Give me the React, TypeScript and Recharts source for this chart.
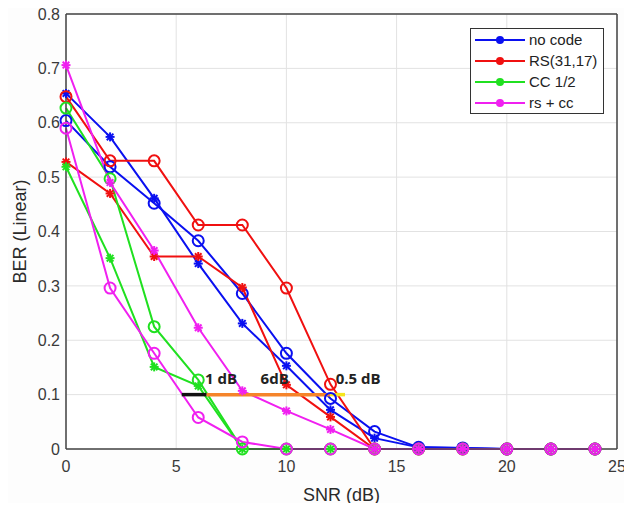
import {
  CartesianGrid,
  Label,
  Line,
  LineChart,
  ReferenceDot,
  ReferenceLine,
  XAxis,
  YAxis,
} from 'recharts';

// SNR points (dB)
const snr = [0, 2, 4, 6, 8, 10, 12, 14, 16, 18, 20, 22, 24];

// BER values, two runs per scheme (asterisk / circle markers)
const noCodeStar = [0.654, 0.574, 0.461, 0.341, 0.231, 0.153, 0.072, 0.02, 0.003, 0.002, 0, 0, 0];
const noCodeCircle = [0.604, 0.519, 0.452, 0.383, 0.286, 0.176, 0.093, 0.032, 0.003, 0.002, 0, 0, 0];
const rsStar = [0.528, 0.47, 0.354, 0.354, 0.297, 0.118, 0.059, 0, 0, 0, 0, 0, 0];
const rsCircle = [0.648, 0.53, 0.53, 0.412, 0.412, 0.296, 0.119, 0, 0, 0, 0, 0, 0];
const ccStar = [0.519, 0.351, 0.151, 0.116, 0, 0, 0, 0, 0, 0, 0, 0, 0];
const ccCircle = [0.627, 0.497, 0.225, 0.127, 0, 0, 0, 0, 0, 0, 0, 0, 0];
const rsccStar = [0.706, 0.49, 0.365, 0.223, 0.107, 0.07, 0.036, 0, 0, 0, 0, 0, 0];
const rsccCircle = [0.59, 0.296, 0.176, 0.058, 0.013, 0, 0, 0, 0, 0, 0, 0, 0];

const xTicks = [0, 5, 10, 15, 20, 25];
const yTicks = [0, 0.1, 0.2, 0.3, 0.4, 0.5, 0.6, 0.7, 0.8];

const legendNames = ['no code', 'RS(31,17)', 'CC 1/2', 'rs + cc'];
const legendColors = ['#0a10f0', '#f01010', '#20e020', '#f020f0'];

// annotation segments at BER = 0.1
const segStart = [5.25, 6.38, 11.98];
const segEnd = [6.38, 11.98, 12.66];
const segColors = ['#111111', '#f5842a', '#f5e51c'];
const noteText = ['1 dB', '6dB', '0.5 dB'];
const noteX = [6.31, 8.83, 12.24];

const rows = snr.map((s, i) => ({
  snr: s,
  noCodeStar: noCodeStar[i],
  noCodeCircle: noCodeCircle[i],
  rsStar: rsStar[i],
  rsCircle: rsCircle[i],
  ccStar: ccStar[i],
  ccCircle: ccCircle[i],
  rsccStar: rsccStar[i],
  rsccCircle: rsccCircle[i],
}));

const font = '"Liberation Sans", Arial, sans-serif';

function starDot(color: string) {
  return (props: any) => {
    const { cx, cy, index } = props;
    if (cx == null || cy == null) return <g key={`s${index}`} />;
    const s = 4.5;
    const d = 3.3;
    return (
      <g key={`s${index}`} stroke={color} strokeWidth={2}>
        <line x1={cx - s} y1={cy} x2={cx + s} y2={cy} />
        <line x1={cx} y1={cy - s} x2={cx} y2={cy + s} />
        <line x1={cx - d} y1={cy - d} x2={cx + d} y2={cy + d} />
        <line x1={cx - d} y1={cy + d} x2={cx + d} y2={cy - d} />
      </g>
    );
  };
}

function circleDot(color: string) {
  return { r: 5.5, fill: 'none', stroke: color, strokeWidth: 2 };
}

function LegendBox() {
  return (
    <div
      style={{
        position: 'absolute',
        left: 470,
        top: 28,
        border: '1.5px solid #333',
        background: '#fff',
        padding: '0 6px 0 4px',
        fontFamily: font,
        fontSize: 15,
        color: '#222',
      }}
    >
      {legendNames.map((n, i) => (
        <div key={n} style={{ display: 'flex', alignItems: 'center', height: 21 }}>
          <svg width={50} height={12} style={{ marginRight: 4 }}>
            <line x1={0} y1={6} x2={50} y2={6} stroke={legendColors[i]} strokeWidth={2} />
            <circle cx={25} cy={6} r={4} fill={legendColors[i]} />
          </svg>
          <span>{n}</span>
        </div>
      ))}
    </div>
  );
}

export default function App() {
  const lines = [
    { key: 'noCodeCircle', color: legendColors[0], star: false },
    { key: 'noCodeStar', color: legendColors[0], star: true },
    { key: 'rsCircle', color: legendColors[1], star: false },
    { key: 'rsStar', color: legendColors[1], star: true },
    { key: 'ccCircle', color: legendColors[2], star: false },
    { key: 'ccStar', color: legendColors[2], star: true },
    { key: 'rsccCircle', color: legendColors[3], star: false },
    { key: 'rsccStar', color: legendColors[3], star: true },
  ];
  return (
    <div
      style={{
        position: 'relative',
        width: 632,
        height: 511,
        margin: -8,
        overflow: 'hidden',
        background: '#fdfdfd',
      }}
    >
      <LineChart
        width={632}
        height={511}
        data={rows}
        margin={{ top: 14, right: 15, bottom: 6, left: 0 }}
        style={{ fontFamily: font }}
      >
        <CartesianGrid stroke="#e2e2e2" strokeWidth={1} fill="#fff" />
        <XAxis
          dataKey="snr"
          type="number"
          domain={[0, 25]}
          ticks={xTicks}
          height={56}
          tickLine={false}
          tickSize={0}
          tickMargin={12}
          stroke="#444"
          strokeWidth={1.5}
          tick={{ fontSize: 16, fill: '#3a3a3a' }}
        >
          <Label value="SNR (dB)" position="insideBottom" offset={4} style={{ fontSize: 18, fill: '#2a2a2a' }} />
        </XAxis>
        <YAxis
          type="number"
          domain={[0, 0.8]}
          ticks={yTicks}
          width={66}
          tickLine={false}
          tickSize={0}
          tickMargin={6}
          stroke="#444"
          strokeWidth={1.5}
          tick={{ fontSize: 16, fill: '#3a3a3a' }}
          tickFormatter={(v: number) => String(v)}
        >
          <Label
            content={(p: any) => {
              const vb = p.viewBox;
              const cy = vb.y + vb.height / 2;
              return (
                <g>
                  <text
                    x={20}
                    y={cy}
                    transform={`rotate(-90 20 ${cy})`}
                    textAnchor="middle"
                    dominantBaseline="central"
                    fontSize={18}
                    fill="#2a2a2a"
                  >
                    BER (Linear)
                  </text>
                  {/* cut-off mark of the neighbouring figure at the left edge */}
                  <circle cx={2} cy={vb.y + vb.height + 4} r={6} fill="#f020f0" />
                  <text x={-2} y={vb.y + vb.height + 31} fontSize={16} fill="#3a3a3a">
                    0
                  </text>
                </g>
              );
            }}
          />
        </YAxis>
        <ReferenceLine y={0.8} stroke="#444" strokeWidth={1.5} />
        <ReferenceLine x={25} stroke="#444" strokeWidth={1.5} />
        {lines.map((l) => (
          <Line
            key={l.key}
            dataKey={l.key}
            stroke={l.color}
            strokeWidth={2}
            dot={l.star ? starDot(l.color) : circleDot(l.color)}
            activeDot={false}
            isAnimationActive={false}
            legendType="none"
          />
        ))}
        {segStart.map((s, i) => (
          <ReferenceLine
            key={`seg${i}`}
            segment={[
              { x: s, y: 0.1 },
              { x: segEnd[i], y: 0.1 },
            ]}
            stroke={segColors[i]}
            strokeWidth={3.5}
          />
        ))}
        {noteText.map((t, i) => (
          <ReferenceDot
            key={`note${i}`}
            x={noteX[i]}
            y={0.12}
            r={0}
            stroke="none"
            label={{
              value: t,
              content: (p: any) => (
                <text
                  x={p.viewBox.x}
                  y={p.viewBox.y}
                  fontFamily='"Open Sans", sans-serif'
                  fontWeight={700}
                  fontSize={15}
                  fill="#222"
                >
                  {t}
                </text>
              ),
            }}
          />
        ))}
      </LineChart>
      <LegendBox />
      <div
        style={{
          position: 'absolute',
          zIndex: 5,
          left: 140,
          top: 505,
          fontFamily: '"Liberation Serif", serif',
          fontSize: 17,
          color: '#444',
          whiteSpace: 'nowrap',
        }}
      >
        Fig. 5 BER with AWGN ratio for 8 M-ary
      </div>
    </div>
  );
}
